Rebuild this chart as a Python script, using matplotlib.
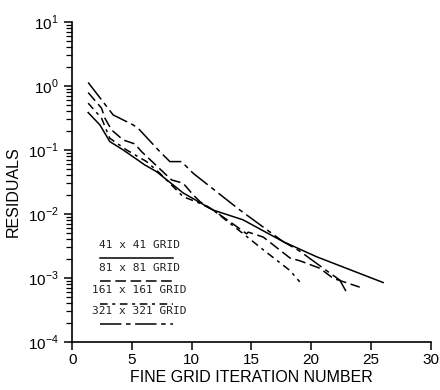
import numpy as np
import matplotlib
matplotlib.use("Agg")
import matplotlib.pyplot as plt
from matplotlib.ticker import LogLocator, NullFormatter, FixedLocator

# dati (residui vs iterazioni)
x_321 = [1.34, 3.43, 5.10, 5.52, 7.34, 8.18, 9.15, 10.13, 12.08, 14.03, 17.66, 19.05, 21.4, 22.4, 23.1]
r_321 = [1.13, 0.352, 0.246, 0.218, 0.094, 0.0657, 0.0657, 0.0432, 0.0223, 0.01155, 0.0037, 0.00263, 0.00126, 0.00093, 0.00054]

x_81 = [1.34, 2.46, 2.74, 3.30, 4.27, 5.25, 5.81, 8.32, 9.29, 10.13, 10.69, 11.80, 13.6, 14.6, 14.75, 16.0, 18.25, 19.05, 20.73, 21.84, 24.07]
r_81 = [0.786, 0.449, 0.313, 0.205, 0.143, 0.124, 0.094, 0.034, 0.0302, 0.0199, 0.0156, 0.0115, 0.0067, 0.0049, 0.0052, 0.00435, 0.00204, 0.00186, 0.00142, 0.00099, 0.00072]

x_161 = [1.34, 2.46, 3.15, 4.55, 6.23, 7.34, 9.29, 10.69, 11.80, 14.45, 16.0, 18.25, 19.05]
r_161 = [0.537, 0.313, 0.152, 0.1, 0.0657, 0.0432, 0.0186, 0.0147, 0.0115, 0.0047, 0.00275, 0.0013, 0.00087]

x_41 = [1.34, 2.32, 3.15, 4.27, 6.08, 7.06, 9.29, 11.80, 14.3, 17.66, 20.45, 26.03]
r_41 = [0.383, 0.246, 0.135, 0.1, 0.0583, 0.0458, 0.0213, 0.0115, 0.0081, 0.0037, 0.00215, 0.00085]

etichette = ["41 x 41 GRID", "81 x 81 GRID", "161 x 161 GRID", "321 x 321 GRID"]

plt.rcParams['font.family'] = ['Liberation Sans', 'DejaVu Sans']
plt.rcParams['mathtext.fontset'] = 'custom'
plt.rcParams['mathtext.rm'] = 'Liberation Sans'

fig = plt.figure(figsize=(4.4, 3.9), dpi=100)
ax = fig.add_axes([0.164, 0.123, 0.8145, 0.821])

stili = {
    "41": dict(ls="-"),
    "81": dict(ls=(0, (7, 3))),
    "161": dict(ls=(0, (5, 3, 2, 3))),
    "321": dict(ls=(0, (14, 3, 3, 3))),
}

ax.plot(x_41, r_41, color="black", lw=1.1, **stili["41"])
ax.plot(x_81, r_81, color="black", lw=1.1, **stili["81"])
ax.plot(x_161, r_161, color="black", lw=1.1, **stili["161"])
ax.plot(x_321, r_321, color="black", lw=1.1, **stili["321"])

ax.set_yscale("log")
ax.set_xlim(0, 30)
ax.set_ylim(1e-4, 10)
ax.set_xticks([0, 5, 10, 15, 20, 25, 30])
ax.yaxis.set_major_locator(FixedLocator([1e-4, 1e-3, 1e-2, 1e-1, 1, 10]))
ax.set_yticklabels([r"$10^{-4}$", r"$10^{-3}$", r"$10^{-2}$", r"$10^{-1}$", r"$10^{0}$", r"$10^{1}$"])
ax.yaxis.set_minor_locator(LogLocator(base=10, subs=np.arange(2, 10)))
ax.yaxis.set_minor_formatter(NullFormatter())

for s in ["top", "right"]:
    ax.spines[s].set_visible(False)
ax.spines["left"].set_linewidth(1.2)
ax.spines["bottom"].set_linewidth(1.2)
ax.tick_params(axis="both", which="major", direction="out", length=6, width=1.1, labelsize=11)
ax.tick_params(axis="y", which="minor", direction="out", length=4, width=0.9)
ax.tick_params(axis="x", pad=2)

ax.set_xlabel("FINE GRID ITERATION NUMBER", fontsize=11.5, labelpad=2)
ax.set_ylabel("RESIDUALS", fontsize=11.5)
ax.yaxis.set_label_coords(-0.143, 0.47)

# legenda fatta a mano: testo e tratto sotto
leg_y = [3.3e-3, 1.45e-3, 6.4e-4, 3.1e-4]
for i, (et, k) in enumerate(zip(etichette, ["41", "81", "161", "321"])):
    ax.text(5.6, leg_y[i], et, ha="center", va="center", fontsize=8,
            family="DejaVu Sans Mono", color="#222222")
    ax.plot([2.3, 8.4], [leg_y[i] * 0.62, leg_y[i] * 0.62], color="black", lw=1.1,
            **stili[k])

plt.savefig("out.png", dpi=100)
